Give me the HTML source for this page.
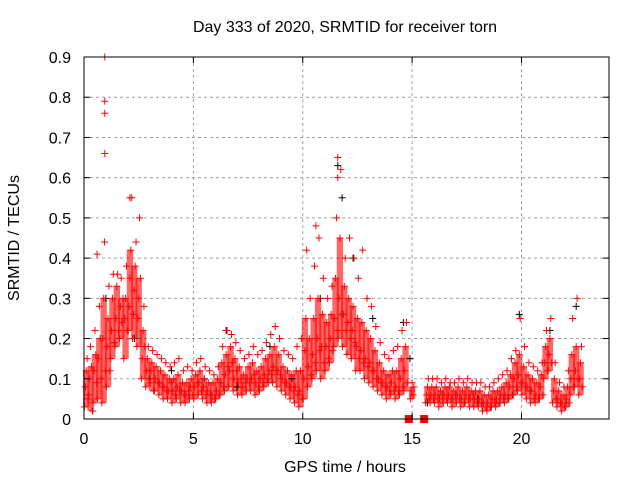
<!DOCTYPE html>
<html><head><meta charset="utf-8"><style>
body{margin:0;background:#fff}
svg{display:block;font-family:"Liberation Sans",sans-serif}
</style></head><body>
<svg id="chart" width="640" height="480" viewBox="0 0 640 480">
<g id="grid"></g>
<g id="band"></g>
<g id="black"></g>
<g id="red"></g>
<rect x="84" y="57" width="525" height="362" fill="none" stroke="#000" stroke-width="1"/>
<g id="ticks"></g>
<text x="345" y="32" font-size="16" text-anchor="middle">Day 333 of 2020, SRMTID for receiver torn</text>
<text x="345" y="472" font-size="16" text-anchor="middle">GPS time / hours</text>
<text transform="translate(19,238) rotate(-90)" font-size="16" text-anchor="middle">SRMTID / TECUs</text>
</svg>
<script>
// rows: hour bin, then values in hundredths of TECU
const binnedRed = [
[0.1,3,8,12,15,5],[0.3,6,10,18,13,2],[0.5,4,12,22,16,9],[0.7,5,15,28,20,10],[0.9,4,20,30,44,12],
[1.1,8,18,25,33,12],[1.3,15,22,30,36,19],[1.5,18,25,33,36,22],[1.7,20,28,35,24,30],[1.9,15,25,30,38,22],
[2.1,22,28,35,42,55],[2.3,20,26,32,38,44],[2.5,18,25,30,50,35],[2.7,10,15,22,28,18],[2.9,8,12,15,18,10],
[3.1,9,12,14,17,7],[3.3,7,10,13,16,9],[3.5,6,9,12,15,8],[3.7,5,8,11,14,7],[3.9,5,7,10,13,9],
[4.1,4,7,10,14,6],[4.3,5,8,11,15,7],[4.5,4,7,9,12,6],[4.7,4,6,9,13,7],[4.9,5,8,10,12,6],
[5.1,5,8,11,14,9],[5.3,6,9,12,15,7],[5.5,5,8,10,13,6],[5.7,4,7,9,12,6],[5.9,4,6,9,11,5],
[6.1,5,7,10,13,6],[6.3,6,9,14,18,8],[6.5,7,11,16,22,13],[6.7,8,12,18,21,14],[6.9,7,10,15,19,12],
[7.1,6,9,13,17,10],[7.3,6,8,11,15,9],[7.5,7,10,13,16,9],[7.7,7,10,14,18,11],[7.9,6,9,12,16,8],
[8.1,7,10,13,17,9],[8.3,8,11,15,19,10],[8.5,9,12,16,21,11],[8.7,9,13,18,23,12],[8.9,8,12,16,20,11],
[9.1,7,10,13,17,9],[9.3,6,9,12,16,8],[9.5,5,8,11,15,7],[9.7,4,8,12,18,6],[9.9,3,7,12,20,5],
[10.1,5,10,17,25,42],[10.3,8,13,20,30,11],[10.5,10,16,25,38,14],[10.7,12,20,30,45,17],[10.9,10,18,26,35,14],
[11.1,12,18,24,30,15],[11.3,14,20,26,33,17],[11.5,18,25,35,50,22],[11.7,20,30,45,62,26],[11.9,18,26,33,40,22],
[12.1,16,24,30,45,20],[12.3,15,22,28,40,19],[12.5,12,18,25,35,15],[12.7,12,17,24,42,14],[12.9,10,15,22,30,13],
[13.1,9,14,20,28,12],[13.3,8,12,17,23,10],[13.5,7,10,14,19,9],[13.7,6,9,12,16,8],[13.9,5,8,11,15,7],
[14.1,6,9,12,17,7],[14.3,5,8,12,18,7],[14.5,6,10,15,22,8],[14.7,7,12,18,24,9],[15.0,5,7,9,6,8],
[15.7,4,6,8,10,5],[15.9,4,6,8,10,5],[16.1,4,6,8,10,5],[16.3,3,5,7,9,6],[16.5,4,6,8,10,5],
[16.7,4,6,8,9,5],[16.9,3,5,7,9,6],[17.1,4,6,8,10,5],[17.3,3,5,7,9,4],[17.5,4,6,8,10,5],
[17.7,3,5,7,9,6],[17.9,3,5,7,9,4],[18.1,3,5,7,9,4],[18.3,2,4,6,8,3],[18.5,2,4,6,8,3],
[18.7,3,5,7,9,4],[18.9,3,5,7,10,4],[19.1,4,6,8,11,5],[19.3,4,6,9,12,5],[19.5,5,8,11,15,6],
[19.7,6,10,14,17,8],[19.9,7,11,16,25,9],[20.1,6,9,13,18,8],[20.3,5,8,11,14,7],[20.5,4,7,10,13,5],
[20.7,4,6,9,12,5],[20.9,5,8,11,14,6],[21.1,10,14,18,22,12],[21.3,12,16,20,25,14],[21.5,4,7,10,14,5],
[21.7,3,5,7,9,4],[21.9,2,4,6,8,3],[22.1,3,5,8,12,4],[22.3,6,10,16,25,8],[22.5,8,12,18,30,10],[22.7,6,10,14,18,8]
];
const outlierHours = [0.95,0.95,0.95,0.95,0.6,2.1,11.6,11.6,10.6];
const outlierValues = [0.9,0.79,0.76,0.66,0.41,0.55,0.6,0.65,0.48];
const blackHours = [0.4,1.0,2.3,3.0,5.5,6.5,8.5,10.8,11.6,11.8,12.3,13.2,14.6,14.9,15.7,18,19.9,21.3,22.5,9.5,4,7];
const blackValues = [0.02,0.3,0.2,0.1,0.1,0.22,0.18,0.3,0.63,0.55,0.4,0.25,0.24,0.15,0.04,0.05,0.26,0.22,0.28,0.1,0.12,0.08];
const squareHours = [14.85,15.55];
const squareValues = [0,0];
const xTicks = [0,5,10,15,20];
const yTicks = [0,0.1,0.2,0.3,0.4,0.5,0.6,0.7,0.8,0.9];

const X0=84,X1=609,Y0=419,Y1=57,XMAX=24,YMAX=0.9,BIN=0.2;
const xs=h=>X0+(X1-X0)*h/XMAX;
const ys=v=>Y0-(Y0-Y1)*v/YMAX;
const NS="http://www.w3.org/2000/svg";
function mk(tag,parent,attrs){const e=document.createElementNS(NS,tag);for(const k in attrs)e.setAttribute(k,attrs[k]);parent.appendChild(e);return e;}
const grid=document.getElementById('grid'),ticks=document.getElementById('ticks');
xTicks.forEach(t=>{const x=xs(t);
 if(t>0){const g=mk('line',grid,{x1:x,x2:x,y1:Y1,y2:Y0,stroke:'#a0a0a0','stroke-dasharray':'3,3'});
 
 }
 const a=mk('line',ticks,{x1:x,x2:x,y1:Y0,y2:Y0-6,stroke:'#000'});
 
 
 const b=mk('line',ticks,{x1:x,x2:x,y1:Y1,y2:Y1+6,stroke:'#000'});
 
 
 const l=mk('text',ticks,{x:x,y:444,'font-size':16,'text-anchor':'middle'});l.textContent=t;
 
 
});
yTicks.forEach(t=>{const y=ys(t);
 if(t>0&&t<0.9){const g=mk('line',grid,{x1:X0,x2:X1,y1:y,y2:y,stroke:'#a0a0a0','stroke-dasharray':'3,3'});
 
 }
 const a=mk('line',ticks,{x1:X0,x2:X0+6,y1:y,y2:y,stroke:'#000'});
 
 
 const b=mk('line',ticks,{x1:X1,x2:X1-6,y1:y,y2:y,stroke:'#000'});
 
 
 const l=mk('text',ticks,{x:X0-13,y:y+6,'font-size':16,'text-anchor':'end'});l.textContent=t===0?'0':t.toFixed(1);
 
 
});
function plus(parent,h,v,color){const x=xs(h),y=ys(v);
 const p=mk('path',parent,{d:`M${x-3.5},${y}h7M${x},${y-3.5}v7`,stroke:color,'stroke-width':1,fill:'none'});
 
 }
const blk=document.getElementById('black'),red=document.getElementById('red'),band=document.getElementById('band');
// dense-core band per bin: from lowest to 4th-lowest sample
binnedRed.forEach(r=>{const s=r.slice(1).sort((a,b)=>a-b);
 const lo=s[0]/100,hi=s[Math.min(3,s.length-1)]/100;
 const b=mk('rect',band,{x:xs(r[0]-BIN/2)-1,y:ys(hi),width:xs(BIN)-X0+2,height:ys(lo)-ys(hi),fill:'#ff0000','fill-opacity':0.6});
 
 });
blackHours.forEach((h,i)=>plus(blk,h,blackValues[i],'#000'));
binnedRed.forEach(r=>{const n=r.length-1;for(let i=1;i<=n;i++){const h=r[0]-BIN/2+BIN*(i-0.5)/n;plus(red,h,r[i]/100,'#ff0000');}});
outlierHours.forEach((h,i)=>plus(red,h,outlierValues[i],'#ff0000'));
squareHours.forEach((h,i)=>{const s=mk('rect',red,{x:xs(h)-4,y:ys(squareValues[i])-4,width:8,height:8,fill:'#ff0000'});
 
 });
</script>
</body></html>
